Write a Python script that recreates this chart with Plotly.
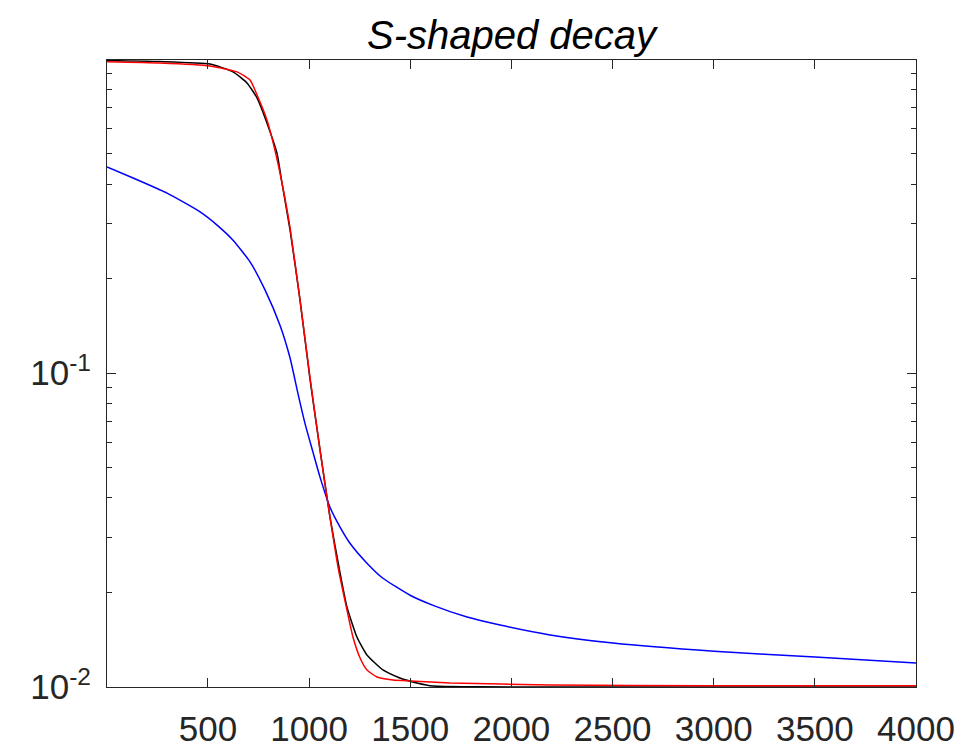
import plotly.graph_objects as go

# Black curve (reference S-shaped decay)
black_x = [1, 263, 510, 624, 693, 743, 792, 841, 866, 906, 955, 1005, 1054, 1103, 1153, 1187,
           1237, 1286, 1365, 1449, 1533, 1613, 1845, 2438, 3000, 4000]
black_y = [0.989, 0.982, 0.964, 0.910, 0.839, 0.751, 0.625, 0.502, 0.403, 0.285, 0.171, 0.0950,
           0.0569, 0.0348, 0.0231, 0.0180, 0.0144, 0.01265, 0.01133, 0.01068, 0.0103, 0.01007,
           0.01001, 0.0100, 0.0100, 0.0100]

# Red curve
red_x = [1, 263, 510, 644, 708, 747, 792, 831, 866, 906, 955, 1005, 1054, 1103, 1143, 1187,
         1217, 1252, 1286, 1336, 1415, 1499, 1697, 2191, 3000, 4000]
red_y = [0.980, 0.971, 0.950, 0.910, 0.857, 0.757, 0.639, 0.513, 0.403, 0.290, 0.171, 0.0964,
         0.0569, 0.0348, 0.0241, 0.0176, 0.0144, 0.01237, 0.01133, 0.01076, 0.01053, 0.01045,
         0.0103, 0.01015, 0.0101, 0.0101]

# Blue curve
blue_x = [1, 130, 298, 461, 545, 624, 708, 782, 856, 906, 945, 980, 1019, 1054, 1103, 1153,
          1202, 1286, 1365, 1499, 1613, 1781, 1944, 2191, 2502, 3002, 3501, 4000]
blue_y = [0.453, 0.418, 0.374, 0.326, 0.296, 0.265, 0.226, 0.184, 0.142, 0.1116, 0.0860, 0.0690,
          0.0560, 0.0466, 0.0374, 0.0323, 0.0287, 0.0248, 0.0222, 0.0196, 0.0182, 0.0167,
          0.01575, 0.01465, 0.0138, 0.0130, 0.01246, 0.01192]

x_ticks = [500, 1000, 1500, 2000, 2500, 3000, 3500, 4000]
y_ticks = [0.01, 0.1]
y_tick_text = ["10<sup>-2</sup>", "10<sup>-1</sup>"]
y_minor = [0.02, 0.03, 0.04, 0.05, 0.06, 0.07, 0.08, 0.09,
           0.2, 0.3, 0.4, 0.5, 0.6, 0.7, 0.8, 0.9]

FONT = "Liberation Sans, Arial, Helvetica, sans-serif"
AX = "#262626"

# the page body adds an 8px offset, so the figure is 8px smaller than the window
W, H = 967, 742

fig = go.Figure()
fig.add_trace(go.Scatter(x=black_x, y=black_y, mode="lines", line=dict(color="black", width=1.5, shape="spline", smoothing=0.5)))
fig.add_trace(go.Scatter(x=blue_x, y=blue_y, mode="lines", line=dict(color="#0000ff", width=1.5, shape="spline", smoothing=0.5)))
fig.add_trace(go.Scatter(x=red_x, y=red_y, mode="lines", line=dict(color="#ff0000", width=1.5, shape="spline", smoothing=0.5)))

fig.update_layout(
    width=W, height=H,
    margin=dict(l=99, r=59, t=52, b=63, autoexpand=False),
    paper_bgcolor="white", plot_bgcolor="white",
    showlegend=False,
    font=dict(family=FONT, color=AX),
    title=dict(text="S-shaped decay", x=0.5, xref="paper", xanchor="center",
               y=1 - 27 / H, yref="container", yanchor="middle",
               font=dict(family=FONT, size=40, color="black", style="italic")),
)
fig.update_xaxes(
    range=[1, 4000], tickmode="array", tickvals=x_ticks,
    ticks="inside", ticklen=9, tickwidth=1, tickcolor=AX,
    showline=True, linecolor=AX, linewidth=1, mirror="allticks",
    showgrid=False, zeroline=False, automargin=False,
    tickfont=dict(family=FONT, size=35, color=AX),
    ticklabelstandoff=11,
)
fig.update_yaxes(
    type="log", range=[-2, -0.003], tickmode="array", tickvals=y_ticks, ticktext=y_tick_text,
    ticks="inside", ticklen=9, tickwidth=1, tickcolor=AX,
    minor=dict(ticks="inside", ticklen=5, tickwidth=1, tickcolor=AX, tickmode="array", tickvals=y_minor, showgrid=False),
    showline=True, linecolor=AX, linewidth=1, mirror="allticks",
    showgrid=False, zeroline=False, automargin=False,
    tickfont=dict(family=FONT, size=35, color=AX),
    ticklabelstandoff=8,
)

fig.write_html("out.html")
